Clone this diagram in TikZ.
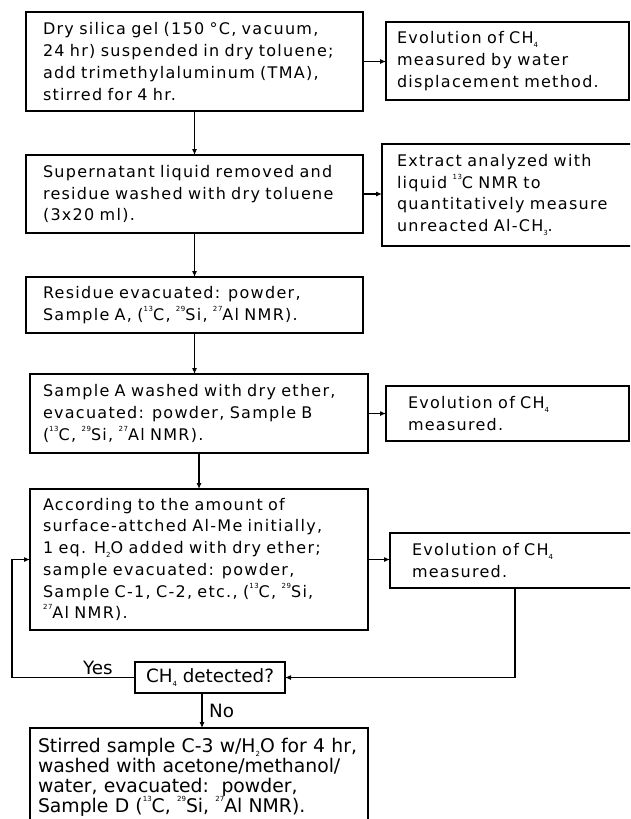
\documentclass[tikz,border=0pt]{standalone}
\usepackage{fontspec}
\setmainfont[LetterSpace=8]{DejaVu Sans}
\newfontfamily\plainfont{DejaVu Sans}
\usetikzlibrary{arrows.meta}
\newcommand\mysub[1]{\raisebox{-0.25em}{\fontsize{7}{7}\selectfont #1}}
\newcommand\mysup[1]{\raisebox{0.55em}{\fontsize{7}{7}\selectfont #1}}
\begin{document}
\begin{tikzpicture}[x=1pt,y=-1pt,
  box/.style={draw, line width=1.4pt, anchor=north west, align=left, inner ysep=0pt, outer sep=0pt, font=\fontsize{16}{21.7}\selectfont},
  decbox/.style={draw, line width=1.4pt, anchor=north west, inner sep=0pt, outer sep=0pt, font=\plainfont\fontsize{18.3}{20}\selectfont},
  lbl/.style={inner sep=0pt, font=\plainfont\fontsize{18.3}{20}\selectfont},
  conn/.style={line width=1.1pt, -{Latex[length=6pt,width=5pt]}}]
\clip (0,0) rectangle (630,819);
\fill[white] (0,0) rectangle (630,819);
\node[box, inner xsep=17pt, text width=303pt, minimum height=99pt] (b1) at (26,12)
 {Dry silica gel (150 °C, vacuum,\\ 24 hr) suspended in dry toluene;\\ add trimethylaluminum (TMA),\\ stirred for 4 hr.};
\node[box, inner xsep=11pt, text width=221pt, minimum height=78pt] (r1) at (386,22)
 {Evolution of CH\mysub{4}\\ measured by water\\ displacement method.};
\node[box, inner xsep=17pt, text width=303pt, minimum height=78pt] (b2) at (26,155)
 {Supernatant liquid removed and\\ residue washed with dry toluene\\ (3x20 ml).};
\node[box, inner xsep=15pt, text width=228pt, minimum height=102pt] (r2) at (382,144)
 {Extract analyzed with\\ liquid \mysup{13}C NMR to\\ quantitatively measure\\ unreacted Al-CH\mysub{3}.};
\node[box, inner xsep=17pt, text width=303pt, minimum height=56pt] (b3) at (26,277)
 {Residue evacuated: powder,\\ Sample A, (\mysup{13}C, \mysup{29}Si, \mysup{27}Al NMR).};
\node[box, inner xsep=13pt, text width=312pt, minimum height=79pt] (b4) at (30,374)
 {Sample A washed with dry ether,\\ evacuated: powder, Sample B\\ (\mysup{13}C, \mysup{29}Si, \mysup{27}Al NMR).};
\node[box, inner xsep=22pt, text width=199pt, minimum height=55pt] (r3) at (386,386)
 {Evolution of CH\mysub{4}\\ measured.};
\node[box, inner xsep=13pt, text width=312pt, minimum height=141pt] (b5) at (30,489)
 {According to the amount of\\ surface-attched Al-Me initially,\\ 1 eq. H\mysub{2}O added with dry ether;\\ sample evacuated: powder,\\ Sample C-1, C-2, etc., (\mysup{13}C, \mysup{29}Si,\\ \mysup{27}Al NMR).};
\node[box, inner xsep=22pt, text width=206pt, minimum height=55pt] (r4) at (390,533)
 {Evolution of CH\mysub{4}\\ measured.};
\node[decbox, minimum width=150pt, minimum height=31pt] (dec) at (135,662) {CH\mysub{4} detected?};
\node[box, font=\plainfont\fontsize{18.8}{20}\selectfont, inner xsep=8pt, text width=322pt, minimum height=98pt] (b6) at (30,728)
 {Stirred sample C-3 w/H\mysub{2}O for 4 hr,\\ washed with acetone/methanol/\\ water, evacuated:\ \ powder,\\ Sample D (\mysup{13}C, \mysup{29}Si, \mysup{27}Al NMR).};
\node[lbl, anchor=base west] (yes) at (83,674) {Yes};
\node[lbl, anchor=base west] (no) at (209,717) {No};
\coordinate (yl) at (12,0);
\coordinate (nx) at (202,0);
\draw[conn] (b1.south) -- (b2.north);
\draw[conn] (b2.south) -- (b3.north);
\draw[conn] (b3.south) -- (b3.south |- b4.north);
\draw[conn] (b4.south) -- (b5.north);
\draw[conn] (b1.east) -- (b1.east -| r1.west);
\draw[conn] (b2.east) -- (b2.east -| r2.west);
\draw[conn] (b4.east) -- (b4.east -| r3.west);
\draw[conn] (b5.east) -- (b5.east -| r4.west);
\draw[conn] (r4.south) |- (dec.east);
\draw[conn] (dec.west) -- (dec.west -| yl) |- (b5.west);
\draw[conn] (dec.south -| nx) -- (b6.north -| nx);
\end{tikzpicture}
\end{document}
